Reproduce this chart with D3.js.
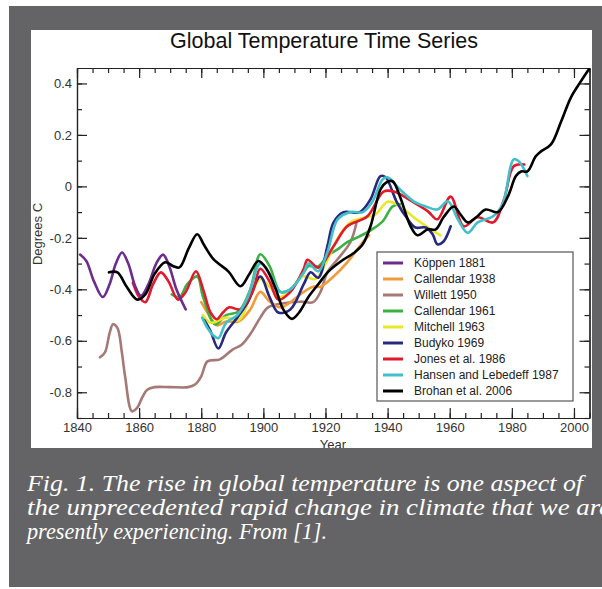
<!DOCTYPE html>
<html lang="en">
<head>
<meta charset="UTF-8">
<title>Global Temperature Time Series</title>
<script src="https://cdn.jsdelivr.net/npm/d3@7"></script>
<style>
  body { margin: 0; background: #fff; }
  svg { display: block; }
</style>
</head>
<body>
<script>
  // series as [year, degrees C]
  var koppen1881 = [[1841,-0.265],[1843,-0.29],[1845.5,-0.37],[1848.3,-0.43],[1850.5,-0.38],[1852.5,-0.3],[1854.5,-0.257],[1856.5,-0.3],[1858.8,-0.39],[1860.6,-0.425],[1863,-0.38],[1865.5,-0.3],[1867.7,-0.265],[1869.7,-0.31],[1872,-0.4],[1875,-0.478]];
  var callendar1938 = [[1880,-0.45],[1883,-0.51],[1885,-0.54],[1888,-0.525],[1892,-0.525],[1895.8,-0.478],[1899,-0.41],[1902,-0.447],[1905.5,-0.47],[1908.7,-0.45],[1913,-0.41],[1916,-0.39],[1918.4,-0.39],[1922.6,-0.35],[1927,-0.295],[1932,-0.217],[1934,-0.19]];
  var willett1950 = [[1847.4,-0.664],[1849,-0.645],[1850.5,-0.57],[1851.6,-0.536],[1853,-0.55],[1854.5,-0.65],[1855.5,-0.74],[1857.7,-0.874],[1859.4,-0.86],[1861,-0.82],[1862.6,-0.79],[1865,-0.78],[1870,-0.78],[1875.8,-0.78],[1878,-0.77],[1880,-0.738],[1882,-0.68],[1886,-0.672],[1890,-0.635],[1893,-0.615],[1896,-0.57],[1899,-0.51],[1901.5,-0.47],[1906,-0.455],[1912,-0.448],[1916,-0.45],[1918.4,-0.41],[1920.6,-0.334],[1923.9,-0.283],[1928,-0.217],[1930,-0.14]];
  var callendar1961 = [[1870.5,-0.42],[1873,-0.43],[1875.5,-0.38],[1878.7,-0.35],[1880.6,-0.43],[1884.5,-0.536],[1888,-0.5],[1892,-0.486],[1895.8,-0.4],[1899,-0.264],[1902,-0.31],[1905.5,-0.41],[1908.7,-0.4],[1913,-0.334],[1914.5,-0.31],[1917.7,-0.31],[1920.6,-0.27],[1923.9,-0.245],[1927,-0.217],[1931,-0.194],[1935,-0.167],[1938.4,-0.136],[1941.6,-0.078],[1944,-0.07]];
  var mitchell1963 = [[1880.5,-0.5],[1883,-0.53],[1888,-0.51],[1892,-0.52],[1895.8,-0.43],[1899,-0.36],[1902,-0.39],[1905.5,-0.43],[1909,-0.4],[1912.6,-0.35],[1916.8,-0.36],[1920,-0.3],[1924,-0.2],[1928,-0.14],[1933,-0.12],[1936,-0.11],[1940,-0.06],[1943,-0.07],[1948.4,-0.12],[1953,-0.16],[1957,-0.19]];
  var budyko1969 = [[1881,-0.52],[1882.9,-0.56],[1885.5,-0.63],[1888,-0.567],[1891.6,-0.51],[1895,-0.45],[1899,-0.35],[1902,-0.43],[1904.8,-0.49],[1908.7,-0.478],[1913,-0.38],[1915.2,-0.334],[1917.7,-0.355],[1920.6,-0.233],[1922.6,-0.14],[1925.8,-0.1],[1931,-0.1],[1934.5,-0.05],[1937.7,0.04],[1939.4,0.035],[1943,-0.062],[1946.5,-0.128],[1949,-0.16],[1952.3,-0.16],[1954.5,-0.186],[1956,-0.225],[1958,-0.214],[1960.3,-0.155]];
  var jones1986 = [[1858,-0.375],[1860,-0.43],[1862,-0.45],[1864.5,-0.38],[1867,-0.334],[1869.5,-0.37],[1872.5,-0.44],[1875,-0.41],[1878.3,-0.33],[1880.6,-0.4],[1883,-0.49],[1885,-0.516],[1887,-0.49],[1889,-0.47],[1892.6,-0.478],[1896.5,-0.41],[1899,-0.32],[1902,-0.37],[1904.8,-0.44],[1908.7,-0.41],[1913,-0.32],[1914.2,-0.285],[1917.7,-0.316],[1922.6,-0.233],[1927,-0.155],[1933.5,-0.116],[1938.7,-0.02],[1942,-0.02],[1948.4,-0.062],[1953,-0.097],[1956,-0.128],[1960.3,-0.04],[1964.5,-0.155],[1969,-0.12],[1974,-0.14],[1977.5,-0.05],[1980.6,0.078],[1984,0.085]];
  var hansen1987 = [[1880.3,-0.51],[1882,-0.55],[1884,-0.58],[1885.5,-0.59],[1888,-0.53],[1891.6,-0.5],[1895,-0.43],[1899,-0.3],[1902,-0.34],[1905.5,-0.41],[1908.7,-0.4],[1913,-0.334],[1914.5,-0.3],[1917.7,-0.33],[1920.6,-0.256],[1923.9,-0.128],[1928,-0.1],[1932,-0.1],[1935,-0.062],[1938.4,0.027],[1940,0.035],[1944,-0.012],[1948.4,-0.058],[1952.3,-0.078],[1956,-0.09],[1959.4,-0.058],[1962.6,-0.128],[1965.8,-0.18],[1969,-0.14],[1974,-0.116],[1977,-0.07],[1980.6,0.105],[1982.3,0.097],[1985,0.04]];
  var brohan2006 = [[1850.3,-0.334],[1853,-0.334],[1856,-0.39],[1859.4,-0.44],[1862,-0.42],[1865,-0.34],[1868.4,-0.295],[1871,-0.31],[1873,-0.315],[1876,-0.24],[1878.7,-0.186],[1881,-0.23],[1884,-0.284],[1888.7,-0.33],[1892.6,-0.388],[1895.5,-0.34],[1898.4,-0.29],[1901,-0.32],[1904,-0.4],[1906.5,-0.48],[1909.2,-0.515],[1911.5,-0.49],[1914.5,-0.43],[1917.7,-0.38],[1921,-0.33],[1925.8,-0.284],[1929,-0.26],[1932,-0.225],[1934.5,-0.155],[1937.7,-0.012],[1939.5,0.015],[1941.6,0.02],[1944,-0.04],[1947.4,-0.155],[1949.6,-0.19],[1953,-0.167],[1955.5,-0.167],[1958,-0.12],[1961.3,-0.078],[1963.5,-0.11],[1965.8,-0.14],[1968.5,-0.12],[1971.6,-0.09],[1975.5,-0.1],[1978.7,-0.04],[1981.3,0.04],[1983,0.058],[1985,0.058],[1987.7,0.117],[1989.4,0.136],[1992.6,0.163],[1995.8,0.25],[1999,0.345],[2002,0.404],[2004.8,0.455]];

  var seriesNames = ["Köppen 1881", "Callendar 1938", "Willett 1950", "Callendar 1961", "Mitchell 1963",
                     "Budyko 1969", "Jones et al. 1986", "Hansen and Lebedeff 1987", "Brohan et al. 2006"];
  var seriesData = [koppen1881, callendar1938, willett1950, callendar1961, mitchell1963,
                    budyko1969, jones1986, hansen1987, brohan2006];
  var seriesColors = ["#6b2d8e", "#f39a3a", "#a57a76", "#3cb043", "#e8e82a",
                      "#27287f", "#e2182d", "#40c0c8", "#000000"];
  // drawing order, back to front
  var drawOrder = [2, 1, 3, 4, 5, 6, 7, 0, 8];

  var xMajor = [1840, 1860, 1880, 1900, 1920, 1940, 1960, 1980, 2000];
  var xMinor = d3.range(1840, 2006, 5);
  var yMajor = [-0.8, -0.6, -0.4, -0.2, 0, 0.2, 0.4];
  var yMinor = [-0.9, -0.8, -0.7, -0.6, -0.5, -0.4, -0.3, -0.2, -0.1, 0, 0.1, 0.2, 0.3, 0.4];

  var captionLines = ["Fig. 1. The rise in global temperature is one aspect of",
                      "the unprecedented rapid change in climate that we are",
                      "presently experiencing. From [1]."];

  var width = 602, height = 589;
  var svg = d3.select("body").append("svg")
      .attr("width", width)
      .attr("height", height);

  // dark frame and white panel
  svg.append("rect").attr("x", 9).attr("y", 6).attr("width", 593).attr("height", 581).attr("fill", "#646466");
  svg.append("rect").attr("x", 31).attr("y", 30).attr("width", 561).attr("height", 418).attr("fill", "#fff");

  svg.append("clipPath").attr("id", "panel")
    .append("rect").attr("x", 31).attr("y", 30).attr("width", 561).attr("height", 418);

  var g = svg.append("g").attr("clip-path", "url(#panel)")
      .style("font-family", "'Liberation Sans', Arial, sans-serif");

  var x = d3.scaleLinear().domain([1840, 2005]).range([77, 589.5]);
  var y = d3.scaleLinear().domain([-0.9, 0.46]).range([418, 68]);

  var fmt = function (d) { return d === 0 ? "0" : d.toFixed(1); };

  function styleAxis(sel) {
    sel.selectAll("path").attr("stroke", "#222").attr("stroke-width", 1.2);
    sel.selectAll("line").attr("stroke", "#222").attr("stroke-width", 1.2);
    sel.selectAll("text").attr("fill", "#333").style("font-size", "13px").style("font-family", "'Liberation Sans', Arial, sans-serif");
  }

  // minor ticks first, then major ones with labels
  g.append("g").attr("transform", "translate(0,418)")
    .call(d3.axisBottom(x).tickValues(xMinor).tickSize(-5).tickSizeOuter(0).tickFormat(""))
    .call(styleAxis);
  g.append("g").attr("transform", "translate(0,418)")
    .call(d3.axisBottom(x).tickValues(xMajor).tickSize(-10).tickSizeOuter(0).tickPadding(5).tickFormat(d3.format("d")))
    .call(styleAxis);
  g.append("g").attr("transform", "translate(0,68)")
    .call(d3.axisTop(x).tickValues(xMinor).tickSize(-5).tickSizeOuter(0).tickFormat(""))
    .call(styleAxis);
  g.append("g").attr("transform", "translate(0,68)")
    .call(d3.axisTop(x).tickValues(xMajor).tickSize(-10).tickSizeOuter(0).tickFormat(""))
    .call(styleAxis);

  g.append("g").attr("transform", "translate(77,0)")
    .call(d3.axisLeft(y).tickValues(yMinor).tickSize(-5).tickSizeOuter(0).tickFormat(""))
    .call(styleAxis);
  g.append("g").attr("transform", "translate(77,0)")
    .call(d3.axisLeft(y).tickValues(yMajor).tickSize(-10).tickSizeOuter(0).tickPadding(5).tickFormat(fmt))
    .call(styleAxis);
  g.append("g").attr("transform", "translate(589.5,0)")
    .call(d3.axisRight(y).tickValues(yMinor).tickSize(-5).tickSizeOuter(0).tickFormat(""))
    .call(styleAxis);
  g.append("g").attr("transform", "translate(589.5,0)")
    .call(d3.axisRight(y).tickValues(yMajor).tickSize(-10).tickSizeOuter(0).tickFormat(""))
    .call(styleAxis);

  // lines
  var line = d3.line()
      .x(function (d) { return x(d[0]); })
      .y(function (d) { return y(d[1]); })
      .curve(d3.curveCatmullRom.alpha(0.5));

  g.append("g").selectAll("path")
    .data(drawOrder)
    .enter()
    .append("path")
    .attr("d", function (i) { return line(seriesData[i]); })
    .attr("fill", "none")
    .attr("stroke", function (i) { return seriesColors[i]; })
    .attr("stroke-width", 2.6)
    .attr("stroke-linejoin", "round")
    .attr("stroke-linecap", "round");

  // title and axis labels
  g.append("text").attr("x", 324).attr("y", 48).attr("text-anchor", "middle")
    .style("font-size", "21.5px").attr("fill", "#111").text("Global Temperature Time Series");
  g.append("text").attr("x", 333).attr("y", 449).attr("text-anchor", "middle")
    .style("font-size", "13px").attr("fill", "#333").text("Year");
  g.append("text").attr("transform", "translate(42,234) rotate(-90)").attr("text-anchor", "middle")
    .style("font-size", "13px").attr("fill", "#333").text("Degrees C");

  // legend
  var legend = g.append("g");
  legend.append("rect").attr("x", 377).attr("y", 252).attr("width", 196).attr("height", 149)
    .attr("fill", "#fff").attr("stroke", "#555").attr("stroke-width", 1.2);
  var item = legend.selectAll("g.item")
    .data(seriesNames)
    .enter()
    .append("g")
    .attr("class", "item")
    .attr("transform", function (d, i) { return "translate(0," + (263 + i * 16) + ")"; });
  item.append("line").attr("x1", 383).attr("x2", 403)
    .attr("stroke", function (d, i) { return seriesColors[i]; })
    .attr("stroke-width", 3);
  item.append("text").attr("x", 414).attr("dy", "0.35em")
    .style("font-size", "12px").attr("fill", "#222")
    .text(function (d) { return d; });

  // caption
  var captionWidths = [556, 584, 300];
  svg.append("g").selectAll("text")
    .data(captionLines)
    .enter()
    .append("text")
    .attr("x", 27)
    .attr("y", function (d, i) { return 491 + i * 24; })
    .attr("fill", "#fff")
    .style("font-family", "'Liberation Serif', 'DejaVu Serif', serif")
    .style("font-style", "italic")
    .style("font-size", "24px")
    .attr("textLength", function (d, i) { return captionWidths[i]; })
    .attr("lengthAdjust", "spacingAndGlyphs")
    .text(function (d) { return d; });
</script>
</body>
</html>
